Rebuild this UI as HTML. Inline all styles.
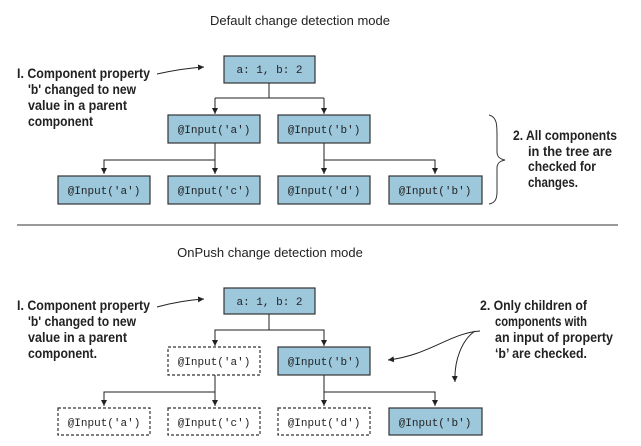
<!DOCTYPE html>
<html><head><meta charset="utf-8"><style>
html,body{margin:0;padding:0;background:#fff;}
svg{display:block;}
.t{font-family:"Liberation Sans",sans-serif;font-size:13px;fill:#222;}
.a{font-family:"Liberation Sans",sans-serif;font-weight:bold;font-size:14px;fill:#222;}
.m{font-family:"Liberation Mono",monospace;font-size:11px;fill:#222;}
</style></head><body>
<svg width="641" height="446" viewBox="0 0 641 446">
<defs><marker id="ar" markerWidth="8" markerHeight="8" refX="6" refY="3" orient="auto" markerUnits="userSpaceOnUse"><path d="M0,0 L6,3 L0,6z" fill="#222"/></marker></defs>
<text class="t" x="300" y="25" text-anchor="middle">Default change detection mode</text>
<g stroke="#222" fill="none" stroke-width="1">
<path d="M269,83V98M215,98H324M215,98V114" marker-end="url(#ar)"/><path d="M324,98V114" marker-end="url(#ar)"/>
<path d="M215,143V160H104V174" marker-end="url(#ar)"/><path d="M215,160V174" marker-end="url(#ar)"/>
<path d="M324,143V160H435V174" marker-end="url(#ar)"/><path d="M324,160V174" marker-end="url(#ar)"/>
</g>
<g fill="#9dc8dc" stroke="#333" stroke-width="1.2">
<rect x="224" y="56" width="91" height="27"/>
<rect x="168" y="115" width="92" height="28"/>
<rect x="278" y="115" width="92" height="28"/>
<rect x="58" y="176" width="92" height="28"/>
<rect x="168" y="176" width="92" height="28"/>
<rect x="278" y="176" width="92" height="28"/>
<rect x="389" y="176" width="93" height="28"/>
</g>
<g class="m" text-anchor="middle">
<text x="269.5" y="73">a: 1, b: 2</text>
<text x="214" y="133">@Input('a')</text><text x="324" y="133">@Input('b')</text>
<text x="104" y="194">@Input('a')</text><text x="214" y="194">@Input('c')</text>
<text x="324" y="194">@Input('d')</text><text x="435" y="194">@Input('b')</text>
</g>
<g class="a" lengthAdjust="spacingAndGlyphs">
<text x="17" y="78" textLength="133" lengthAdjust="spacingAndGlyphs">I. Component property</text>
<text x="28" y="94" textLength="108" lengthAdjust="spacingAndGlyphs">'b' changed to new</text>
<text x="28" y="110" textLength="99" lengthAdjust="spacingAndGlyphs">value in a parent</text>
<text x="28" y="126" textLength="65" lengthAdjust="spacingAndGlyphs">component</text></g>
<path d="M157,74 C175,70 188,68 204,67" stroke="#222" fill="none" marker-end="url(#ar)"/>
<path d="M489,115 C497,117 497,125 497,135 L497,152 C497,157 500,159 505,160 C500,161 497,163 497,168 L497,192 C497,199 495,203 489,204" stroke="#333" fill="none"/>
<g class="a">
<text x="513" y="140" textLength="104" lengthAdjust="spacingAndGlyphs">2. All components</text>
<text x="528" y="156" textLength="84" lengthAdjust="spacingAndGlyphs">in the tree are</text>
<text x="528" y="171" textLength="68" lengthAdjust="spacingAndGlyphs">checked for</text>
<text x="528" y="187" textLength="50" lengthAdjust="spacingAndGlyphs">changes.</text></g>
<line x1="17" y1="225" x2="618" y2="225" stroke="#333" stroke-width="1"/>
<text class="t" x="270" y="257" text-anchor="middle">OnPush change detection mode</text>
<g stroke="#222" fill="none">
<path d="M269,314V330H215V346" marker-end="url(#ar)"/><path d="M269,330H324V346" marker-end="url(#ar)"/>
<path d="M215,375V392H104V406" marker-end="url(#ar)"/><path d="M215,392V406" marker-end="url(#ar)"/>
<path d="M324,375V392H435V406" marker-end="url(#ar)"/><path d="M324,392V406" marker-end="url(#ar)"/>
</g>
<g stroke="#333" stroke-width="1.2">
<rect x="224" y="288" width="91" height="26" fill="#9dc8dc"/>
<rect x="168" y="347" width="92" height="28" fill="#fff" stroke-dasharray="3,2"/>
<rect x="278" y="347" width="92" height="28" fill="#9dc8dc"/>
<rect x="58" y="408" width="92" height="27" fill="#fff" stroke-dasharray="3,2"/>
<rect x="168" y="408" width="92" height="27" fill="#fff" stroke-dasharray="3,2"/>
<rect x="278" y="408" width="92" height="27" fill="#fff" stroke-dasharray="3,2"/>
<rect x="389" y="408" width="93" height="27" fill="#9dc8dc"/>
</g>
<g class="m" text-anchor="middle">
<text x="269.5" y="305">a: 1, b: 2</text>
<text x="214" y="365">@Input('a')</text><text x="324" y="365">@Input('b')</text>
<text x="104" y="426">@Input('a')</text><text x="214" y="426">@Input('c')</text>
<text x="324" y="426">@Input('d')</text><text x="435" y="426">@Input('b')</text>
</g>
<g class="a">
<text x="17" y="310" textLength="133" lengthAdjust="spacingAndGlyphs">I. Component property</text>
<text x="28" y="326" textLength="108" lengthAdjust="spacingAndGlyphs">'b' changed to new</text>
<text x="28" y="342" textLength="99" lengthAdjust="spacingAndGlyphs">value in a parent</text>
<text x="28" y="358" textLength="69" lengthAdjust="spacingAndGlyphs">component.</text></g>
<path d="M157,307 C175,302 188,300 204,299" stroke="#222" fill="none" marker-end="url(#ar)"/>
<g class="a">
<text x="480" y="310" textLength="107" lengthAdjust="spacingAndGlyphs">2. Only children of</text>
<text x="495" y="326" textLength="92" lengthAdjust="spacingAndGlyphs">components with</text>
<text x="495" y="342" textLength="118" lengthAdjust="spacingAndGlyphs">an input of property</text>
<text x="495" y="358" textLength="92" lengthAdjust="spacingAndGlyphs">‘b’ are checked.</text></g>
<path d="M480,331 C450,333 430,355 388,360" stroke="#222" fill="none" marker-end="url(#ar)"/>
<path d="M475,331 C462,340 454,360 455,382" stroke="#222" fill="none" marker-end="url(#ar)"/>
</svg>
</body></html>
